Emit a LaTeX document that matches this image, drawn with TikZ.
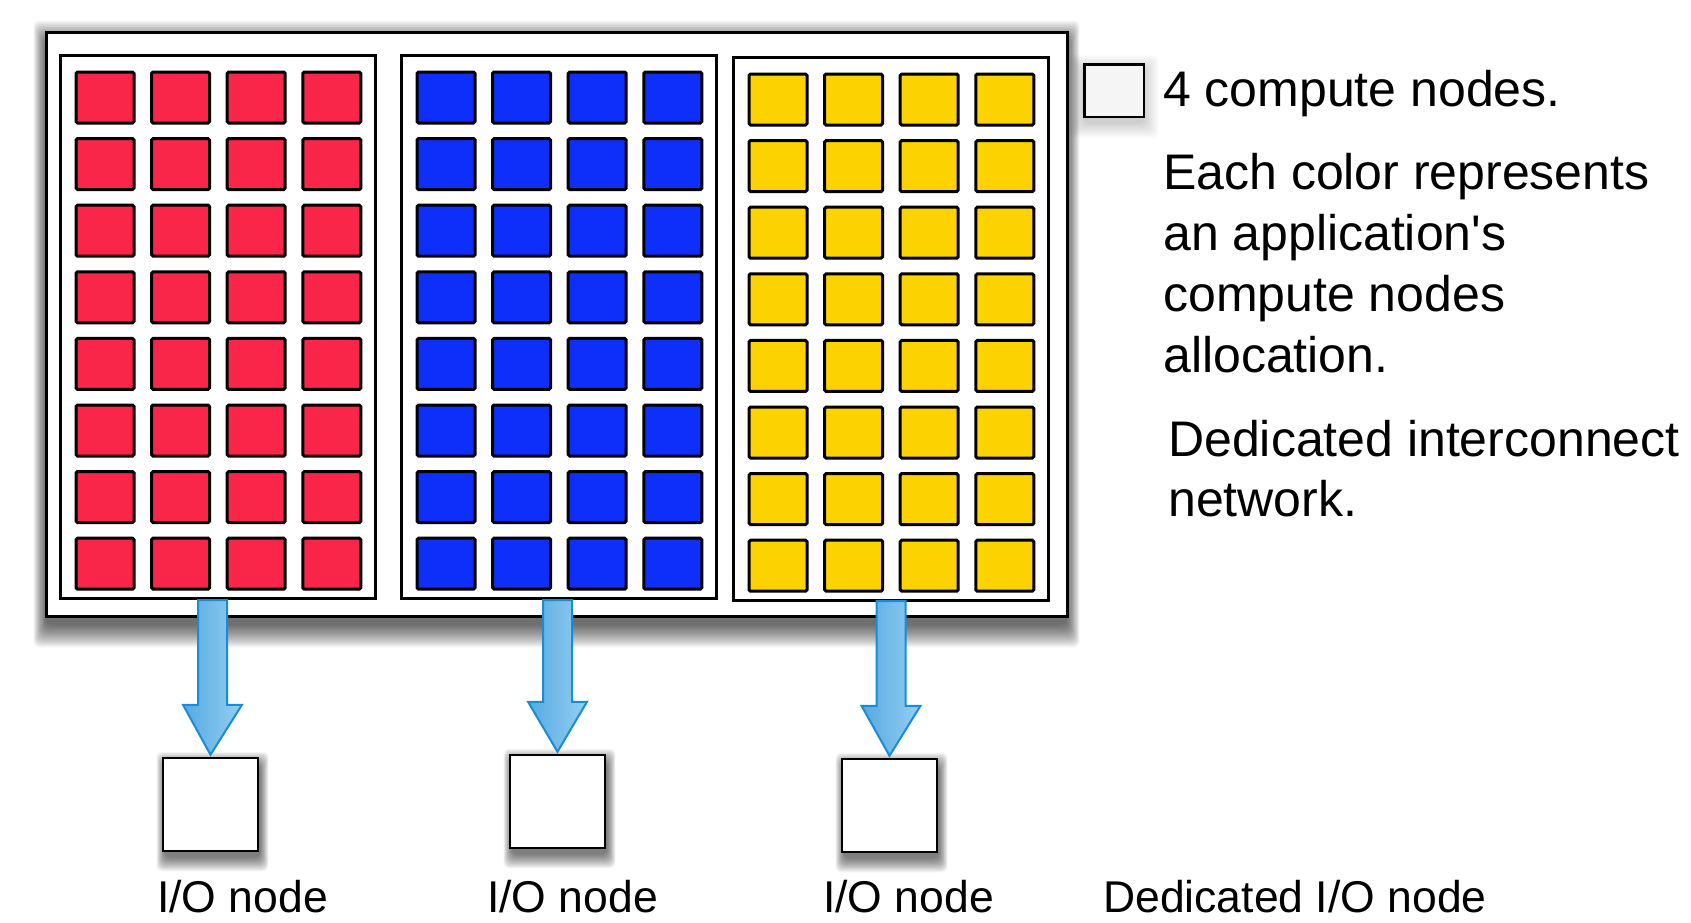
\documentclass[tikz,border=0pt]{standalone}
\usepackage{fontspec}
\setmainfont{Liberation Sans}[Ligatures=TeXOff]
\usetikzlibrary{calc,backgrounds}
\definecolor{appred}{RGB}{249,38,73}
\definecolor{appblue}{RGB}{14,46,250}
\definecolor{appyellow}{RGB}{252,211,0}
\definecolor{arrowL}{RGB}{84,170,226}
\definecolor{arrowR}{RGB}{150,206,242}
\definecolor{arrowE}{RGB}{24,140,214}
% #1 node, #2 xshift, #3 yshift, #4 inset, #5 steps, #6 opacity, #7 horizontal spread factor
\newcommand\dropsoft[7]{%
  \foreach \k in {1,...,#5}{
    \pgfmathsetmacro\ee{\k-#4}
    \pgfmathsetmacro\eh{(\k-#4)*#7}
    \fill[black,opacity=#6,rounded corners=6pt]
      ($(#1.north west)+(#2-\eh,#3-\ee)$) rectangle ($(#1.south east)+(#2+\eh,#3+\ee)$);
  }}
\begin{document}
\begin{tikzpicture}[x=1pt,y=-1pt,
  cnode/.style={draw=black,line width=3pt,rounded corners=1.5pt,minimum width=58pt,minimum height=51pt,inner sep=0pt,anchor=north west},
  panelbox/.style={draw=black,line width=2.5pt,fill=white,minimum width=315pt,minimum height=543pt,anchor=north west,inner sep=0pt},
  outerbox/.style={draw=black,line width=3pt,fill=white,minimum width=1021pt,minimum height=584pt,anchor=north west,inner sep=0pt},
  iobox/.style={draw=black,line width=2.5pt,fill=white,minimum width=95pt,minimum height=93pt,inner sep=0pt},
  legbox/.style={draw=black,line width=2.5pt,fill=black!4,minimum width=59.5pt,minimum height=52.5pt,inner sep=0pt},
  bigtext/.style={font=\fontsize{50}{61}\selectfont,inner sep=0pt,anchor=base west,align=left},
  labtext/.style={font=\fontsize{44.5}{50}\selectfont,inner sep=0pt,anchor=base west},
  fatarrow/.style={draw=arrowE,line width=2pt,line join=miter,left color=arrowL,right color=arrowR}
]
\useasboundingbox (0,0) rectangle (1691,922);

% outer machine box
\node[outerbox] (outer) at (44.5,30.5) {};

% panels
\node[panelbox] (p1) at (59,54) {};
\node[panelbox] (p2) at (400,54) {};
\node[panelbox] (p3) at (732,56) {};

% compute nodes
\foreach \i in {0,...,3}{
  \foreach \j in {0,...,7}{
    \node[cnode,fill=appred]    (r-\i-\j) at ({74.5+75.6*\i},{70.5+66.6*\j}) {};
    \node[cnode,fill=appblue]   (b-\i-\j) at ({415.5+75.6*\i},{70.5+66.6*\j}) {};
    \node[cnode,fill=appyellow] (y-\i-\j) at ({747.5+75.6*\i},{72.5+66.6*\j}) {};
  }
}

% I/O nodes
\node[iobox] (io1) at (210.5,804.5) {};
\node[iobox] (io2) at (557.5,801.5) {};
\node[iobox] (io3) at (889.5,805.5) {};

% legend box
\node[legbox] (leg) at (1114,90.5) {};

% shadows and background
\begin{pgfonlayer}{background}
  \fill[white] (0,0) rectangle (1691,922);
  \dropsoft{outer}{0}{10}{4}{24}{0.032}{0.55}
  \dropsoft{io1}{2}{7}{3}{15}{0.045}{0.6}
  \dropsoft{io2}{2}{7}{3}{15}{0.045}{0.6}
  \dropsoft{io3}{2}{7}{3}{15}{0.045}{0.6}
  \dropsoft{leg}{0}{6}{2}{16}{0.012}{1}
\end{pgfonlayer}

% arrows
\coordinate (a1) at (212.5,600);
\coordinate (a2) at (557.5,600);
\coordinate (a3) at (891,601);
\foreach \s/\t in {a1/io1,a2/io2,a3/io3}{
  \path let \p1=(\s), \p2=(\t.north) in
    coordinate (sl) at (\x1-14.5,\y1)
    coordinate (sr) at (\x1+14.5,\y1)
    coordinate (hl) at (\x1-14.5,\y2+52)
    coordinate (hr) at (\x1+14.5,\y2+52)
    coordinate (wl) at (\x1-29.5,\y2+52)
    coordinate (wr) at (\x1+29.5,\y2+52)
    coordinate (tp) at (\x2,\y2+2);
  \draw[fatarrow] (sl) -- (hl) -- (wl) -- (tp) -- (wr) -- (hr) -- (sr) -- cycle;
}

% labels
\node[labtext] (l1) at (157,912) {I/O node};
\node[labtext] (l2) at (487,912) {I/O node};
\node[labtext] (l3) at (823,912) {I/O node};
\node[labtext] (l4) at (1103,912) {Dedicated I/O node};

% legend text
\node[bigtext] (t1) at (1163,106) {4 compute nodes.};
\node[bigtext] (t2) at (1163,372) {Each color represents\\an application's\\compute nodes\\allocation.};
\node[bigtext,font=\fontsize{50}{60}\selectfont] (t3) at (1168,516) {Dedicated interconnect\\network.};
\end{tikzpicture}
\end{document}
